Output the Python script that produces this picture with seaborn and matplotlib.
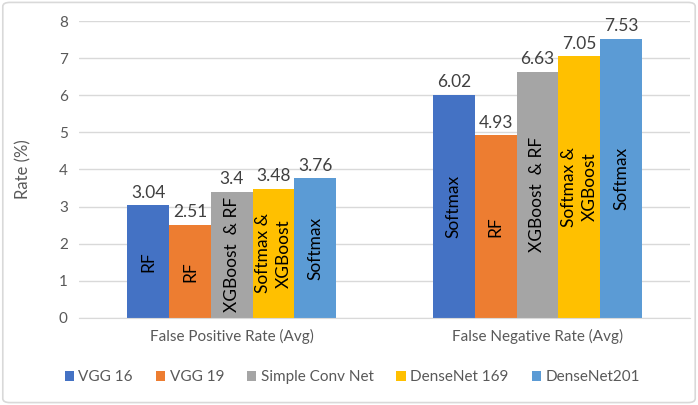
import pandas as pd
import matplotlib.pyplot as plt
import seaborn as sns
from matplotlib.patches import FancyBboxPatch

metrics = ['False Positive Rate (Avg)', 'False Negative Rate (Avg)']
models = ['VGG 16', 'VGG 19', 'Simple Conv Net', 'DenseNet 169', 'DenseNet201']
fpr = [3.04, 2.51, 3.4, 3.48, 3.76]
fnr = [6.02, 4.93, 6.63, 7.05, 7.53]
fpr_clf = ['RF', 'RF', 'XGBoost  & RF', 'Softmax &\nXGBoost', 'Softmax']
fnr_clf = ['Softmax', 'RF', 'XGBoost  & RF', 'Softmax &\nXGBoost', 'Softmax']
colors = ['#4472C4', '#ED7D31', '#A5A5A5', '#FFC000', '#5B9BD5']

df = pd.DataFrame({
    'Metric': [metrics[0]] * 5 + [metrics[1]] * 5,
    'Model': models * 2,
    'Rate': fpr + fnr,
    'Classifier': fpr_clf + fnr_clf,
})

sns.set_style('white')
plt.rcParams['font.family'] = ['Lato', 'DejaVu Sans']

fig = plt.figure(figsize=(6.98, 4.05), dpi=100)
ax = fig.add_axes([0.113, 0.215, 0.876, 0.733])

sns.barplot(data=df, x='Metric', y='Rate', hue='Model', order=metrics,
            hue_order=models, palette=colors, width=0.684, saturation=1,
            edgecolor='none', ax=ax, legend=True)

# value labels on top, classifier names inside the bars
for i, model in enumerate(models):
    cont = ax.containers[i]
    sub = df[df['Model'] == model].set_index('Metric').loc[metrics]
    for bar, val, clf in zip(cont, sub['Rate'], sub['Classifier']):
        cx = bar.get_x() + bar.get_width() / 2
        ax.text(cx, val + 0.12, f'{val:g}', ha='center', va='bottom',
                fontsize=12.5, color='#404040')
        ax.text(cx, val / 2, clf, ha='center', va='center', rotation=90,
                fontsize=12.5, color='black', linespacing=1.35)

ax.set_ylim(0, 8)
ax.set_xlim(-0.5, 1.5)
ax.set_yticks(range(0, 9))
ax.yaxis.grid(True, color='#D9D9D9', linewidth=1)
ax.set_axisbelow(True)
for s in ['top', 'right', 'left']:
    ax.spines[s].set_visible(False)
ax.spines['bottom'].set_color('#D9D9D9')
ax.tick_params(axis='both', length=0, labelsize=11, colors='#595959', pad=8)
ax.set_xlabel('')
ax.set_ylabel('Rate (%)', fontsize=12, color='#595959', labelpad=20)

ax.legend(loc='upper center', bbox_to_anchor=(0.447, -0.13), ncol=5,
          frameon=False, fontsize=11, handlelength=0.6, handleheight=0.6,
          handletextpad=0.3, columnspacing=1.5, labelcolor='#595959')

fig.patches.append(FancyBboxPatch((0.004, 0.006), 0.992, 0.988,
                                  boxstyle='round,pad=0,rounding_size=0.01',
                                  transform=fig.transFigure, fill=False,
                                  edgecolor='#D9D9D9', linewidth=1.2))

plt.savefig('out.png', dpi=100)
plt.close()
